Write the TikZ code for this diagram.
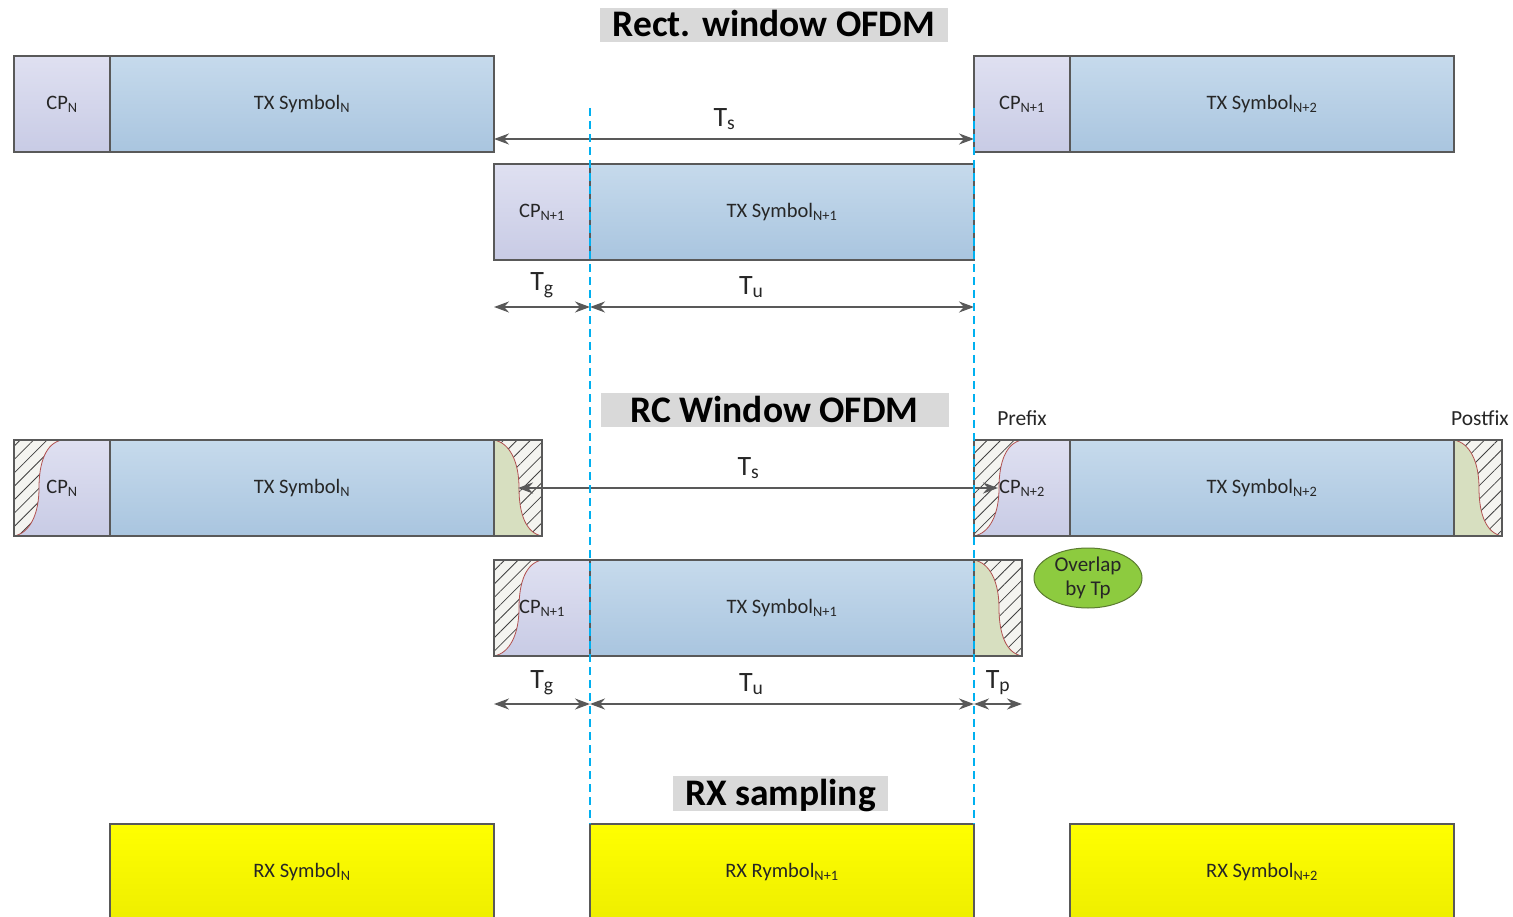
\documentclass[tikz,border=0pt]{standalone}
\usepackage{fontspec}
\setmainfont{Carlito}
\usepackage{tikz}
\usetikzlibrary{positioning,arrows.meta,patterns.meta,shapes.geometric}

\definecolor{edgegray}{HTML}{595959}
\definecolor{textgray}{HTML}{262626}
\definecolor{cptop}{HTML}{DFE0F1}
\definecolor{cpbot}{HTML}{C8CBE5}
\definecolor{symtop}{HTML}{C6DAEC}
\definecolor{symbot}{HTML}{A9C5DF}
\definecolor{postfill}{HTML}{D7DFC0}
\definecolor{hatchbg}{HTML}{F4F4F0}
\definecolor{hatchline}{HTML}{404040}
\definecolor{rampred}{HTML}{B05050}
\definecolor{cutcyan}{HTML}{00B0F0}
\definecolor{headgray}{HTML}{D9D9D9}
\definecolor{overlapgreen}{HTML}{8DCB3F}
\definecolor{overlapedge}{HTML}{5A7A30}
\definecolor{rxtop}{HTML}{FFFF00}
\definecolor{rxbot}{HTML}{EEEE00}

\newcommand*\symht{96pt}
\newcommand*\cpwd {96pt}
\newcommand*\symwd{384pt}
\newcommand*\tpwd {48pt}

\tikzset{
    box/.style     = {draw=edgegray, line width=1.5pt, minimum height=\symht,
                      inner sep=0pt, outer sep=0pt, text=textgray,
                      font=\fontsize{20.5}{23}\selectfont},
    cpbox/.style   = {box, minimum width=\cpwd, top color=cptop, bottom color=cpbot},
    symbox/.style  = {box, minimum width=\symwd, top color=symtop, bottom color=symbot},
    postbox/.style = {box, minimum width=\tpwd, fill=postfill},
    rxbox/.style   = {box, minimum width=\symwd, top color=rxtop, bottom color=rxbot},
    hatch/.style   = {preaction={fill=hatchbg},
                      pattern={Lines[angle=45,distance=9.5pt,line width=0.8pt]},
                      pattern color=hatchline},
    ramp/.style    = {draw=rampred, line width=0.8pt},
    % raised-cosine ramp on the left of a CP box
    rampin/.style  = {path picture={
        \coordinate (rampTop) at ([xshift=48pt]path picture bounding box.north west);
        \coordinate (rampMid) at ([xshift=25pt]path picture bounding box.west);
        \coordinate (rampEnd) at (path picture bounding box.south west);
        \path[hatch] (path picture bounding box.north west) -- (rampTop)
            .. controls +(-16pt,-3pt) and +(0pt,26pt) .. (rampMid)
            .. controls +(0pt,-26pt) and +(16pt,3pt) .. (rampEnd) -- cycle;
        \draw[ramp] (rampTop)
            .. controls +(-16pt,-3pt) and +(0pt,26pt) .. (rampMid)
            .. controls +(0pt,-26pt) and +(16pt,3pt) .. (rampEnd);
    }},
    % falling ramp filling a postfix box
    rampout/.style = {path picture={
        \coordinate (rampTop) at (path picture bounding box.north west);
        \coordinate (rampMid) at ([xshift=1pt]path picture bounding box.center);
        \coordinate (rampEnd) at (path picture bounding box.south east);
        \path[hatch] (path picture bounding box.north east) -- (rampTop)
            .. controls +(16pt,-3pt) and +(0pt,26pt) .. (rampMid)
            .. controls +(0pt,-26pt) and +(-16pt,3pt) .. (rampEnd) -- cycle;
        \draw[ramp] (rampTop)
            .. controls +(16pt,-3pt) and +(0pt,26pt) .. (rampMid)
            .. controls +(0pt,-26pt) and +(-16pt,3pt) .. (rampEnd);
    }},
    headline/.style = {fill=headgray, minimum width=348pt, minimum height=34pt,
                       inner sep=0pt, text height=24pt, text depth=0pt,
                       font=\fontsize{37.5}{40}\selectfont\bfseries},
    dimarrow/.style = {{Stealth[length=15pt,width=11pt]}-{Stealth[length=15pt,width=11pt]},
                       draw=edgegray, line width=1.8pt},
    dimlabel/.style = {font=\fontsize{28}{30}\selectfont, text=textgray, inner sep=1pt},
    cutline/.style  = {draw=cutcyan, line width=1.3pt, dash pattern=on 8pt off 5pt},
    tag/.style      = {font=\fontsize{21.5}{23}\selectfont, text=textgray, inner sep=2pt},
    overlap/.style  = {ellipse, fill=overlapgreen, draw=overlapedge, line width=1pt,
                       minimum width=108pt, minimum height=60pt, inner sep=0pt,
                       align=center, text=textgray, font=\fontsize{21}{24}\selectfont},
  }

\begin{document}
\begin{tikzpicture}[x=1pt, y=-1pt]
  \useasboundingbox (0,0) rectangle (1513,917);
  \clip (0,0) rectangle (1513,917);

  % Rectangular window: symbol N and N+2 on top, N+1 below
  \node[headline] (headRect) at (774,25) {Rect. window OFDM};
  \node[cpbox, anchor=north west] (cpA) at (14,56) {CP\textsubscript{N}};
  \node[symbox, right=0pt of cpA] (symA) {TX Symbol\textsubscript{N}};
  \node[cpbox, anchor=north west] (cpC) at (974,56) {CP\textsubscript{N+1}};
  \node[symbox, right=0pt of cpC] (symC) {TX Symbol\textsubscript{N+2}};
  \node[cpbox, anchor=north west] (cpB) at (494,164) {CP\textsubscript{N+1}};
  \node[symbox, right=0pt of cpB] (symB) {TX Symbol\textsubscript{N+1}};

  \draw[dimarrow] ([yshift=-35pt]symA.east) --
      node[dimlabel, above=7pt, pos=0.48] (tsA) {T\textsubscript{s}} ([yshift=-35pt]cpC.west);
  \draw[dimarrow] ([yshift=-47pt]cpB.south west) --
      node[dimlabel, above=7pt] (tgA) {T\textsubscript{g}} ([yshift=-47pt]cpB.south east);
  \draw[dimarrow] ([yshift=-47pt]symB.south west) --
      node[dimlabel, above=7pt, pos=0.42] (tuA) {T\textsubscript{u}} ([yshift=-47pt]symB.south east);

  % Raised-cosine window: ramps overlap by Tp
  \node[headline] (headRC) at (774.5,410) {RC Window OFDM};
  \node[cpbox, rampin, anchor=north west] (cpD) at (14,440) {CP\textsubscript{N}};
  \node[symbox, right=0pt of cpD] (symD) {TX Symbol\textsubscript{N}};
  \node[postbox, rampout, right=0pt of symD] (postD) {};
  \node[cpbox, rampin, anchor=north west] (cpF) at (974,440) {CP\textsubscript{N+2}};
  \node[symbox, right=0pt of cpF] (symF) {TX Symbol\textsubscript{N+2}};
  \node[postbox, rampout, right=0pt of symF] (postF) {};
  \node[cpbox, rampin, anchor=north west] (cpE) at (494,560) {CP\textsubscript{N+1}};
  \node[symbox, right=0pt of cpE] (symE) {TX Symbol\textsubscript{N+1}};
  \node[postbox, rampout, right=0pt of symE] (postE) {};

  \node[tag, above=12pt of cpF.north] (prefixTag) {Prefix};
  \node[tag, above=12pt of postF.north, xshift=2pt] (postfixTag) {Postfix};
  \node[overlap] (overlapTp) at (1088,578) {Overlap\\by Tp};

  \draw[dimarrow] (postD.center) --
      node[dimlabel, above=7pt, pos=0.48] (tsB) {T\textsubscript{s}} ([xshift=24pt]cpF.west);
  \draw[dimarrow] ([yshift=-48pt]cpE.south west) --
      node[dimlabel, above=7pt] (tgB) {T\textsubscript{g}} ([yshift=-48pt]cpE.south east);
  \draw[dimarrow] ([yshift=-48pt]symE.south west) --
      node[dimlabel, above=7pt, pos=0.42] (tuB) {T\textsubscript{u}} ([yshift=-48pt]symE.south east);
  \draw[dimarrow] ([yshift=-48pt]postE.south west) --
      node[dimlabel, above=7pt] (tpB) {T\textsubscript{p}} ([yshift=-48pt]postE.south east);

  % Receiver FFT windows
  \node[headline, minimum width=215pt, minimum height=35pt] (headRX) at (780.5,793.5) {RX sampling};
  \node[rxbox, anchor=north west] (rxA) at (110,824) {RX Symbol\textsubscript{N}};
  \node[rxbox, anchor=north west] (rxB) at (590,824) {RX Rymbol\textsubscript{N+1}};
  \node[rxbox, anchor=north west] (rxC) at (1070,824) {RX Symbol\textsubscript{N+2}};

  % Symbol N+1 boundaries carried down to the receiver
  \draw[cutline] ([yshift=56pt]symB.north west) -- (rxB.north west);
  \draw[cutline] ([yshift=56pt]symB.north east) -- (rxB.north east);
\end{tikzpicture}
\end{document}
